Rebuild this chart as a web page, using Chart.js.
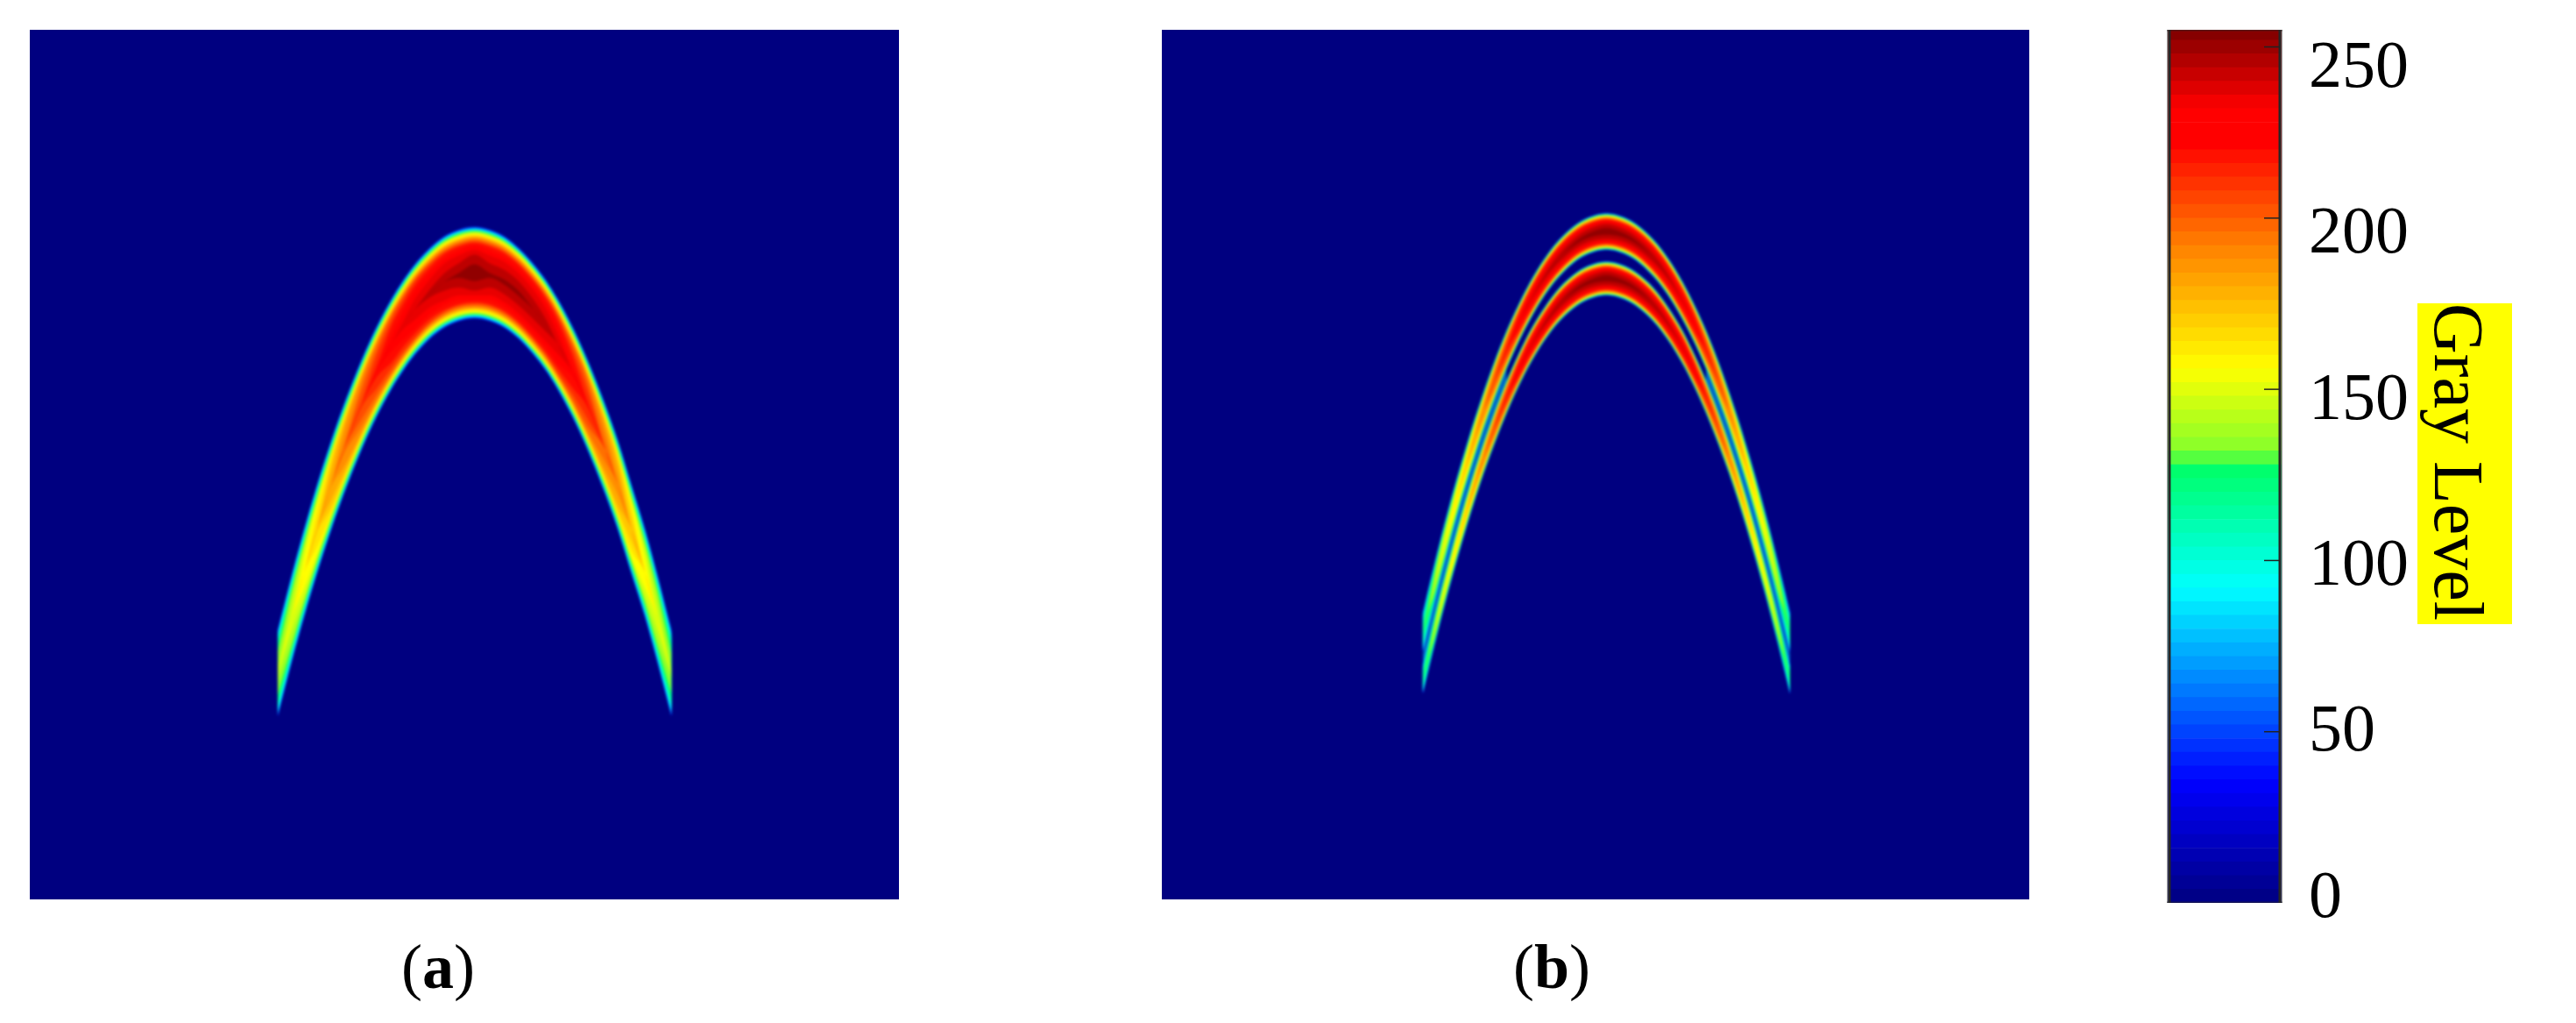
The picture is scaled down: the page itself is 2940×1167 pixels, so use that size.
<!DOCTYPE html>
<html>
<head>
<meta charset="utf-8">
<title>Gray level maps</title>
<script src="https://cdn.jsdelivr.net/npm/chart.js@4"></script>
<style>
    html, body { margin: 0; padding: 0; background: #fff; width: 2940px; height: 1167px; overflow: hidden; }
    canvas { display: block; }
    .panel { position: absolute; top: 34px; background: #000080; }
    .panel canvas { filter: blur(1.5px); }
    #panel-a-box { left: 34px; }
    #panel-b-box { left: 1326px; }
    #colorbar { position: absolute; left: 2473px; top: 0; }
    .caption { position: absolute; top: 1062px; font: 72px "Liberation Serif", serif; color: #000; line-height: 82px; }
</style>
</head>
<body>
<div class="panel" id="panel-a-box"><canvas id="panel-a" width="992" height="992"></canvas></div>
<div class="panel" id="panel-b-box"><canvas id="panel-b" width="990" height="992"></canvas></div>
<canvas id="colorbar" width="467" height="1167"></canvas>
<div class="caption" style="left:458px">(<b>a</b>)</div>
<div class="caption" style="left:1727px">(<b>b</b>)</div>
<script>
// Image is 128 x 128 samples, rows counted from the top
const gridSize = 128;

// Panel (a): one wide arc
const aColumns = [36.5, 38.6, 40.4, 42.3, 44.4, 46.2, 48.9, 51.1, 53.3, 55.0, 56.6, 58.8, 61.0, 63.2, 65.5, 67.7, 69.9, 72.1, 74.3, 76.0, 77.7, 79.9, 82.1, 84.8, 86.6, 88.6, 90.6, 92.4, 94.5];
const aUpper = [88.1, 79.9, 73.3, 66.8, 60.3, 55.2, 48.4, 43.6, 39.5, 36.8, 34.6, 32.2, 30.4, 29.4, 29.0, 29.4, 30.4, 32.2, 34.6, 36.8, 39.5, 43.6, 48.4, 55.2, 60.3, 66.8, 73.3, 79.9, 88.1];
const aLower = [101.4, 93.2, 86.6, 80.2, 73.7, 68.6, 61.8, 57.0, 52.9, 50.2, 48.0, 45.6, 43.9, 42.9, 42.5, 42.9, 43.9, 45.6, 48.0, 50.2, 52.9, 57.0, 61.8, 68.6, 73.7, 80.2, 86.6, 93.2, 101.4];
const aPeak = [140, 150, 160, 170, 185, 195, 210, 220, 230, 235, 240, 243, 247, 250, 255, 250, 250, 250, 248, 245, 240, 228, 218, 200, 190, 175, 160, 150, 138];

// Panel (b): two thin arcs
const bColumns = [38.5, 39.3, 40.2, 41.2, 42.3, 43.6, 44.9, 46.2, 47.5, 49.0, 50.9, 52.6, 54.4, 56.5, 58.7, 61.3, 63.5, 65.6, 67.7, 69.9, 72.5, 74.7, 76.8, 78.6, 80.3, 82.2, 83.7, 85.0, 86.3, 87.6, 88.9, 90.0, 91.0, 91.9, 92.7];
const bUpperTop = [85.7, 82.3, 78.6, 74.6, 70.4, 65.7, 61.3, 57.1, 53.2, 49.0, 44.2, 40.5, 37.0, 33.6, 30.8, 28.5, 27.4, 27.0, 27.4, 28.5, 30.8, 33.6, 37.0, 40.5, 44.2, 49.0, 53.2, 57.1, 61.3, 65.7, 70.4, 74.6, 78.6, 82.3, 85.7];
const bUpperBottom = [91.9, 88.4, 84.7, 80.6, 76.4, 71.6, 67.1, 62.9, 58.9, 54.7, 49.9, 46.1, 42.6, 39.1, 36.3, 33.9, 32.8, 32.4, 32.8, 33.9, 36.3, 39.1, 42.6, 46.1, 49.9, 54.7, 58.9, 62.9, 67.1, 71.6, 76.4, 80.6, 84.7, 88.4, 91.9];
const bLowerTop = [93.4, 90.0, 86.2, 82.2, 78.0, 73.2, 68.7, 64.5, 60.6, 56.4, 51.6, 47.8, 44.2, 40.8, 37.9, 35.6, 34.5, 34.1, 34.5, 35.6, 37.9, 40.8, 44.2, 47.8, 51.6, 56.4, 60.6, 64.5, 68.7, 73.2, 78.0, 82.2, 86.2, 90.0, 93.4];
const bLowerBottom = [97.9, 94.5, 90.8, 86.8, 82.6, 77.9, 73.4, 69.2, 65.3, 61.2, 56.4, 52.6, 49.1, 45.7, 42.9, 40.6, 39.5, 39.1, 39.5, 40.6, 42.9, 45.7, 49.1, 52.6, 56.4, 61.2, 65.3, 69.2, 73.4, 77.9, 82.6, 86.8, 90.8, 94.5, 97.9];
const bPeak = [120, 130, 140, 150, 156, 164, 172, 182, 192, 205, 218, 230, 238, 244, 248, 251, 253, 255, 253, 251, 248, 244, 238, 230, 218, 205, 192, 182, 172, 164, 156, 150, 140, 130, 120];

// Colour bar
const colorbarLevels = [0, 4, 8, 12, 16, 20, 24, 28, 32, 36, 40, 44, 48, 52, 56, 60, 64, 68, 72, 76, 80, 84, 88, 92, 96, 100, 104, 108, 112, 116, 120, 124, 128, 132, 136, 140, 144, 148, 152, 156, 160, 164, 168, 172, 176, 180, 184, 188, 192, 196, 200, 204, 208, 212, 216, 220, 224, 228, 232, 236, 240, 244, 248, 252];
const colorbarStep = 4;
const tickLabels = [0, 50, 100, 150, 200, 250];
const colorbarTitle = 'Gray Level';

// Share of the peak reached at a given fraction of the way across an arc
const profileRatio = [0.15, 0.36, 0.51, 0.61, 0.75, 0.87, 0.94, 1];
const profileInset = [0, 0.03, 0.05, 0.08, 0.13, 0.19, 0.3, 0.5];

// Colormap: [level, r, g, b]
const colormapStops = [
    [0, 0, 0, 128], [35, 0, 0, 255], [92, 0, 255, 255], [128, 0, 255, 100],
    [131, 128, 255, 45], [156, 255, 255, 0], [192, 255, 128, 0], [222, 255, 0, 0],
    [232, 255, 0, 0], [255, 128, 0, 0]
];

function levelColor(level) {
    let i = 0;
    while (i < colormapStops.length - 2 && level > colormapStops[i + 1][0]) i++;
    const a = colormapStops[i];
    const b = colormapStops[i + 1];
    const t = Math.min(1, Math.max(0, (level - a[0]) / (b[0] - a[0])));
    const mix = k => Math.round(a[k] + (b[k] - a[k]) * t);
    return `rgb(${mix(1)}, ${mix(2)}, ${mix(3)})`;
}

function insetFor(ratio) {
    if (ratio >= 1) return 0.5;
    if (ratio <= profileRatio[0]) return 0;
    let i = 0;
    while (ratio > profileRatio[i + 1]) i++;
    const t = (ratio - profileRatio[i]) / (profileRatio[i + 1] - profileRatio[i]);
    return profileInset[i] + (profileInset[i + 1] - profileInset[i]) * t;
}

const lineBase = { borderWidth: 0, pointRadius: 0, cubicInterpolationMode: 'monotone' };

// One pair of filled lines for every gray level inside the arc.
// Filler paints the last dataset first, so the highest level goes first here.
function arcDatasets(columns, top, bottom, peak) {
    const sets = [];
    const levels = colorbarLevels.filter(level => level >= 40 && level % 8 === 0).reverse();
    levels.forEach(level => {
        const upper = columns.map((x, i) => ({ x, y: top[i] + insetFor(level / peak[i]) * (bottom[i] - top[i]) }));
        const lower = columns.map((x, i) => ({ x, y: bottom[i] - insetFor(level / peak[i]) * (bottom[i] - top[i]) }));
        sets.push({ ...lineBase, data: upper, fill: '+1', backgroundColor: levelColor(level + 4) });
        sets.push({ ...lineBase, data: lower, fill: false });
    });
    return sets;
}

// Faint cyan between the two arcs on the flanks of panel (b)
function gapDatasets(columns, top, bottom, peak) {
    const keep = (vals, i) => (peak[i] < 222 ? vals[i] : null);
    return [
        { ...lineBase, data: columns.map((x, i) => ({ x, y: keep(top, i) })), fill: '+1', backgroundColor: 'rgba(0, 190, 255, 0.55)' },
        { ...lineBase, data: columns.map((x, i) => ({ x, y: keep(bottom, i) })), fill: false }
    ];
}

function drawPanel(id, datasets) {
    new Chart(document.getElementById(id), {
        type: 'line',
        data: { datasets },
        options: {
            responsive: false,
            animation: false,
            devicePixelRatio: 1,
            layout: { padding: 0 },
            plugins: { legend: { display: false }, tooltip: { enabled: false } },
            scales: {
                x: { type: 'linear', min: 0, max: gridSize, display: false },
                y: { min: 0, max: gridSize, reverse: true, display: false }
            }
        }
    });
}

drawPanel('panel-a', arcDatasets(aColumns, aUpper, aLower, aPeak));
drawPanel('panel-b', [
    ...arcDatasets(bColumns, bUpperTop, bUpperBottom, bPeak),
    ...arcDatasets(bColumns, bLowerTop, bLowerBottom, bPeak),
    ...gapDatasets(bColumns, bUpperBottom, bLowerTop, bPeak)
]);

const colorbarDecor = {
    id: 'colorbarDecor',
    afterDraw(chart) {
        const { ctx, chartArea: area } = chart;
        const scale = chart.scales.y;
        ctx.save();
        // soft dark frame along both sides
        ctx.fillStyle = '#9a9a9a';
        ctx.fillRect(area.left, area.top, 1.5, area.bottom - area.top);
        ctx.fillRect(area.right - 1.5, area.top, 1.5, area.bottom - area.top);
        ctx.fillStyle = '#262626';
        ctx.fillRect(area.left + 1.5, area.top, 3, area.bottom - area.top);
        ctx.fillRect(area.right - 4.5, area.top, 3, area.bottom - area.top);
        ctx.fillStyle = 'rgba(40,40,40,0.5)';
        ctx.fillRect(area.left, area.top, area.right - area.left, 1.5);
        ctx.fillRect(area.left, area.bottom - 1.5, area.right - area.left, 1.5);
        // tick marks, inside the bar
        ctx.strokeStyle = '#222';
        ctx.lineWidth = 1.5;
        tickLabels.slice(1).forEach(v => {
            const y = scale.getPixelForValue(v);
            ctx.beginPath();
            ctx.moveTo(area.right - 21, y);
            ctx.lineTo(area.right - 3, y);
            ctx.stroke();
        });
        // rotated title on its yellow strip
        ctx.fillStyle = '#ffff00';
        ctx.fillRect(286, 346, 108, 366);
        ctx.translate(306, 346);
        ctx.rotate(Math.PI / 2);
        ctx.fillStyle = '#000';
        ctx.font = '80px "Liberation Serif", serif';
        ctx.textBaseline = 'alphabetic';
        ctx.fillText(colorbarTitle, 0, 0);
        ctx.restore();
    }
};

new Chart(document.getElementById('colorbar'), {
    type: 'bar',
    data: {
        labels: [''],
        datasets: colorbarLevels.map(level => ({
            data: [colorbarStep],
            backgroundColor: levelColor(level + colorbarStep / 2),
            borderWidth: 0,
            barPercentage: 1,
            categoryPercentage: 1,
            yAxisID: 'y'
        }))
    },
    plugins: [colorbarDecor],
    options: {
        responsive: false,
        animation: false,
        devicePixelRatio: 1,
        layout: { padding: { top: 34, bottom: 137, left: 0, right: 0 } },
        plugins: { legend: { display: false }, tooltip: { enabled: false } },
        scales: {
            x: { stacked: true, display: false },
            y: { stacked: true, min: 0, max: 255, display: false },
            // tick labels sit slightly off the marks in the original, hence their own axis
            labels: {
                position: 'right',
                min: -1.1,
                max: 261.8,
                afterBuildTicks(axis) { axis.ticks = tickLabels.map(value => ({ value })); },
                afterFit(axis) {
                    axis.width = 467 - 132;
                    axis.paddingTop = 0;
                    axis.paddingBottom = 0;
                },
                grid: { display: false, drawTicks: false },
                border: { display: false },
                ticks: {
                    autoSkip: false,
                    padding: 30,
                    color: '#000',
                    font: { family: '"Liberation Serif", serif', size: 76 }
                }
            }
        }
    }
});
</script>
</body>
</html>
